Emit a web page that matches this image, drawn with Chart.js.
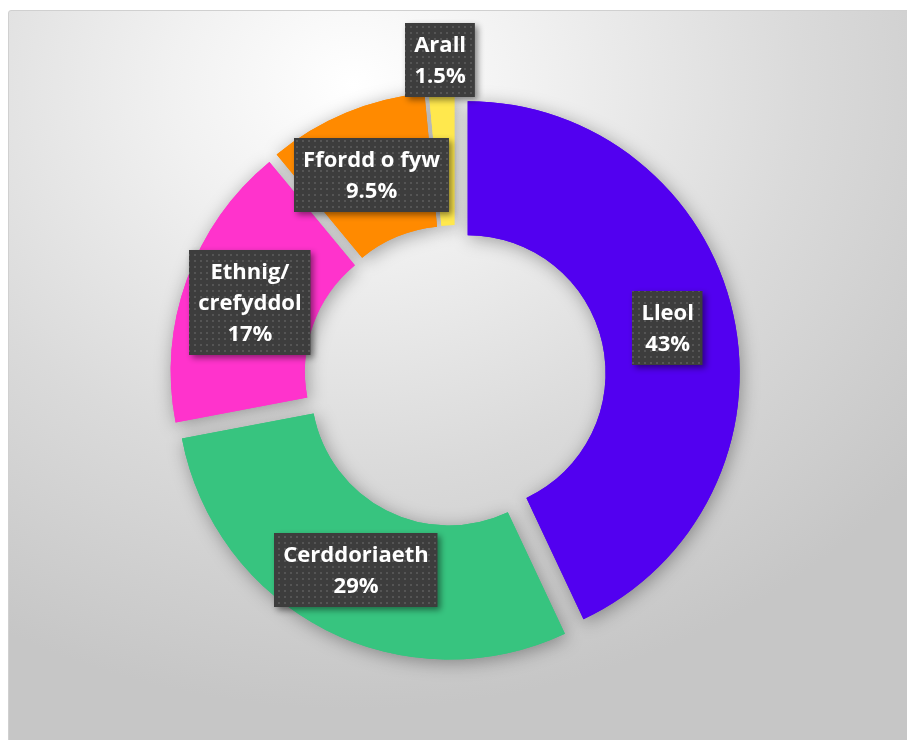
<!DOCTYPE html>
<html>
<head>
<meta charset="utf-8">
<script src="https://cdn.jsdelivr.net/npm/chart.js@4.4.1/dist/chart.umd.min.js"></script>
<style>
  html, body { margin: 0; padding: 0; background: #fff; overflow: hidden; }
  #frame {
    position: absolute; left: 8px; top: 10px; width: 905px; height: 735px;
    border: 1px solid #d0d0d0; border-radius: 3px;
    background: radial-gradient(ellipse 80% 85% at 38% 10%, #ffffff 0%, #f1f1f1 25%, #dadada 62%, #c6c6c6 100%);
  }
  #chart { position: absolute; left: 0; top: 0; }
</style>
</head>
<body>
<div id="frame"></div>
<canvas id="chart" width="907" height="740"></canvas>
<script>
// slice names (split in lines the way the labels wrap) and shares in %
const categories = [["Lleol"], ["Cerddoriaeth"], ["Ethnig/", "crefyddol"], ["Ffordd o fyw"], ["Arall"]];
const shares = [43, 29, 17, 9.5, 1.5];
const sliceColors = ["#5200F0", "#37C47F", "#FF33CC", "#FF8A00", "#FFE84D"];

const explode = 13;       // px each slice is pushed out along its middle angle
const labelFont = "bold 22px 'Open Sans'";

// small dotted fill used by the label boxes
function makeDots(ctx) {
    const c = document.createElement("canvas");
    c.width = 6; c.height = 6;
    const g = c.getContext("2d");
    g.fillStyle = "#3d3d3d";
    g.fillRect(0, 0, 6, 6);
    g.fillStyle = "#555555";
    g.fillRect(2, 2, 2, 2);
    return ctx.createPattern(c, "repeat");
}

const explodePlugin = {
    id: "explode",
    afterDatasetUpdate(chart, args) {
        args.meta.data.forEach(arc => {
            const mid = (arc.startAngle + arc.endAngle) / 2;
            arc.x += Math.cos(mid) * explode;
            arc.y += Math.sin(mid) * explode;
        });
    }
};

const shadowPlugin = {
    id: "softShadow",
    beforeDatasetsDraw(chart) {
        const ctx = chart.ctx;
        ctx.save();
        ctx.shadowColor = "rgba(0,0,0,0.35)";
        ctx.shadowBlur = 18;
        ctx.shadowOffsetX = 2;
        ctx.shadowOffsetY = 3;
    },
    afterDatasetsDraw(chart) {
        const ctx = chart.ctx;
        ctx.restore();
        // second pass without shadow so no slice gets darkened by its neighbour
        chart.getDatasetMeta(0).data.forEach(arc => arc.draw(ctx));
    }
};

const labelPlugin = {
    id: "boxLabels",
    afterDatasetsDraw(chart) {
        const ctx = chart.ctx;
        const dots = makeDots(ctx);
        const lineH = 31, padX = 9, padY = 6;
        chart.getDatasetMeta(0).data.forEach((arc, i) => {
            let pos;
            if (shares[i] < 5) {
                const mid = (arc.startAngle + arc.endAngle) / 2;
                const r = arc.outerRadius + 31;
                pos = { x: arc.x + Math.cos(mid) * r, y: arc.y + Math.sin(mid) * r };
            } else {
                pos = arc.getCenterPoint();
            }
            const lines = categories[i].concat([shares[i] + "%"]);
            ctx.save();
            ctx.font = labelFont;
            const w = Math.max(...lines.map(t => ctx.measureText(t).width)) + padX * 2;
            const h = lines.length * lineH + padY * 2;
            const x0 = Math.round(pos.x - w / 2), y0 = Math.round(pos.y - h / 2);
            ctx.shadowColor = "rgba(0,0,0,0.45)";
            ctx.shadowBlur = 6;
            ctx.shadowOffsetX = 3;
            ctx.shadowOffsetY = 3;
            ctx.fillStyle = dots;
            ctx.fillRect(x0, y0, w, h);
            ctx.shadowColor = "transparent";
            ctx.fillStyle = "#ffffff";
            ctx.textAlign = "center";
            ctx.textBaseline = "middle";
            lines.forEach((t, k) => {
                ctx.fillText(t, pos.x, y0 + padY + lineH * k + lineH / 2 + 1);
            });
            ctx.restore();
        });
    }
};

function drawChart() {
    const ctx = document.getElementById("chart").getContext("2d");
    new Chart(ctx, {
        type: "doughnut",
        data: {
            labels: categories,
            datasets: [{
                data: shares,
                backgroundColor: sliceColors,
                borderWidth: 0,
                clip: false
            }]
        },
        options: {
            responsive: false,
            animation: false,
            events: [],
            radius: 272,
            cutout: "50.7%",
            layout: { padding: { left: 3, top: 12, right: 0, bottom: 0 } },
            plugins: {
                legend: { display: false },
                tooltip: { enabled: false }
            }
        },
        plugins: [explodePlugin, shadowPlugin, labelPlugin]
    });
}

document.fonts.load(labelFont).then(drawChart, drawChart);
</script>
</body>
</html>
